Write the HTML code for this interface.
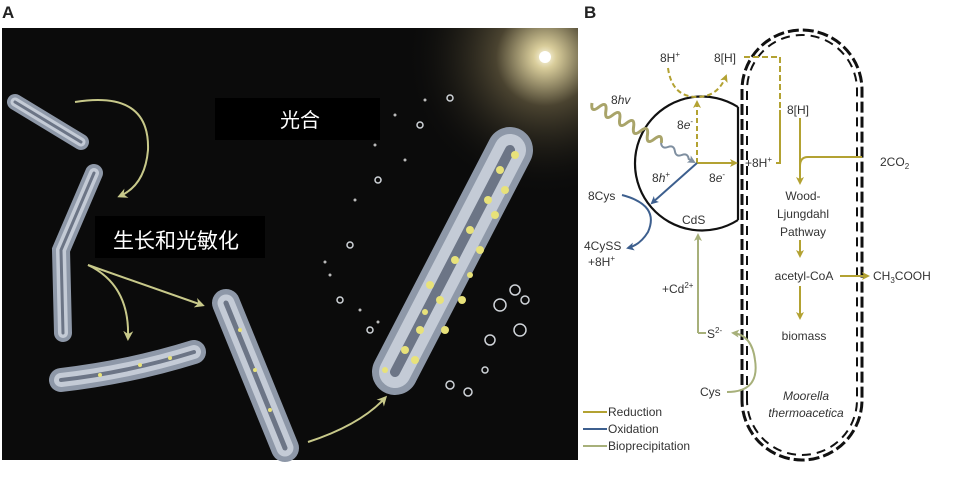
<!DOCTYPE html>
<html><head><meta charset="utf-8"><style>
body{margin:0;background:#fff;width:961px;height:480px;overflow:hidden}
svg text{font-family:"Liberation Sans",sans-serif}
</style></head><body>
<svg width="961" height="480" viewBox="0 0 961 480" xmlns="http://www.w3.org/2000/svg">
<defs>
<radialGradient id="sun" cx="545" cy="57" r="140" gradientUnits="userSpaceOnUse">
<stop offset="0" stop-color="#fffbe8"/><stop offset="0.08" stop-color="#d8cc9a"/><stop offset="0.35" stop-color="#4a4330"/><stop offset="1" stop-color="#0a0a0a" stop-opacity="0"/></radialGradient>
<marker id="ay" markerWidth="8" markerHeight="8" refX="6" refY="4" orient="auto" markerUnits="userSpaceOnUse"><path d="M0,0 L8,4 L0,8 L2,4z" fill="#b3a232"/></marker>
<marker id="ab" markerWidth="8" markerHeight="8" refX="6" refY="4" orient="auto" markerUnits="userSpaceOnUse"><path d="M0,0 L8,4 L0,8 L2,4z" fill="#3d5f8e"/></marker>
<marker id="ag" markerWidth="8" markerHeight="8" refX="6" refY="4" orient="auto" markerUnits="userSpaceOnUse"><path d="M0,0 L8,4 L0,8 L2,4z" fill="#a7b07a"/></marker>
<marker id="aw" markerWidth="8" markerHeight="8" refX="6" refY="4" orient="auto" markerUnits="userSpaceOnUse"><path d="M0,0 L8,4 L0,8 L2,4z" fill="#7f8fa0"/></marker>
<marker id="al" markerWidth="10" markerHeight="10" refX="7" refY="5" orient="auto" markerUnits="userSpaceOnUse"><path d="M0,0 L10,5 L0,10 L3,5z" fill="#c8c98a"/></marker>
</defs>
<!-- Panel A -->
<text x="2" y="18" font-size="17" font-weight="bold" fill="#222">A</text>
<rect x="2" y="28" width="576" height="432" fill="#0b0b0b"/>
<rect x="2" y="28" width="576" height="432" fill="url(#sun)"/>
<circle cx="545" cy="57" r="6" fill="#fff"/>
<g stroke-linecap="round" fill="none">
<g stroke="#8e98a8"><path d="M15,102 L81,142" stroke-width="16"/><path d="M94,173 L61,250 L63,333" stroke-width="18"/><path d="M61,380 Q130,372 194,352" stroke-width="24"/><path d="M226,303 L285,448" stroke-width="28"/><path d="M395,372 L510,150" stroke-width="46"/></g>
<g stroke="#c4cbd6"><path d="M15,102 L81,142" stroke-width="9"/><path d="M94,173 L61,250 L63,333" stroke-width="10"/><path d="M61,380 Q130,372 194,352" stroke-width="14"/><path d="M226,303 L285,448" stroke-width="17"/><path d="M395,372 L510,150" stroke-width="32"/></g>
<g stroke="#6c7586"><path d="M15,102 L81,142" stroke-width="3"/><path d="M94,173 L61,250 L63,333" stroke-width="3"/><path d="M61,380 Q130,372 194,352" stroke-width="4"/><path d="M226,303 L285,448" stroke-width="5"/><path d="M395,372 L510,150" stroke-width="10"/></g>
</g>
<g fill="#e8e27a">
<circle cx="405" cy="350" r="4"/><circle cx="420" cy="330" r="4"/><circle cx="440" cy="300" r="4"/><circle cx="455" cy="260" r="4"/><circle cx="470" cy="230" r="4"/><circle cx="488" cy="200" r="4"/><circle cx="500" cy="170" r="4"/><circle cx="515" cy="155" r="4"/><circle cx="430" cy="285" r="4"/><circle cx="462" cy="300" r="4"/><circle cx="480" cy="250" r="4"/><circle cx="495" cy="215" r="4"/><circle cx="415" cy="360" r="4"/><circle cx="445" cy="330" r="4"/><circle cx="505" cy="190" r="4"/><circle cx="385" cy="370" r="3"/><circle cx="425" cy="312" r="3"/><circle cx="470" cy="275" r="3"/>
<circle cx="240" cy="330" r="2"/><circle cx="255" cy="370" r="2"/><circle cx="270" cy="410" r="2"/><circle cx="100" cy="375" r="2"/><circle cx="140" cy="365" r="2"/><circle cx="170" cy="358" r="2"/>
</g>
<g fill="none" stroke="#cfd3d8" stroke-width="1.5">
<circle cx="450" cy="98" r="3"/><circle cx="420" cy="125" r="3"/><circle cx="378" cy="180" r="3"/><circle cx="350" cy="245" r="3"/><circle cx="340" cy="300" r="3"/><circle cx="370" cy="330" r="3"/><circle cx="500" cy="305" r="6"/><circle cx="515" cy="290" r="5"/><circle cx="520" cy="330" r="6"/><circle cx="490" cy="340" r="5"/><circle cx="450" cy="385" r="4"/><circle cx="468" cy="392" r="4"/><circle cx="485" cy="370" r="3"/><circle cx="525" cy="300" r="4"/>
</g>
<g fill="#bbb"><circle cx="395" cy="115" r="1.5"/><circle cx="405" cy="160" r="1.5"/><circle cx="355" cy="200" r="1.5"/><circle cx="325" cy="262" r="1.5"/><circle cx="330" cy="275" r="1.5"/><circle cx="360" cy="310" r="1.5"/><circle cx="378" cy="322" r="1.5"/><circle cx="425" cy="100" r="1.5"/><circle cx="375" cy="145" r="1.5"/></g>
<g fill="none" stroke="#c8c98a" stroke-width="2">
<path d="M75,102 Q150,90 148,150 Q145,185 120,196" marker-end="url(#al)"/>
<path d="M88,265 Q130,285 128,338" marker-end="url(#al)"/>
<path d="M88,265 L202,305" marker-end="url(#al)"/>
<path d="M308,442 Q360,425 385,398" marker-end="url(#al)"/>
</g>
<rect x="215" y="98" width="165" height="42" fill="#000"/>
<text x="300" y="127" font-size="20" fill="#fff" text-anchor="middle" font-family="'Liberation Sans','Noto Sans CJK SC',sans-serif">光合</text>
<rect x="95" y="216" width="170" height="42" fill="#000"/>
<text x="176" y="248" font-size="21" fill="#fff" text-anchor="middle" font-family="'Liberation Sans','Noto Sans CJK SC',sans-serif">生长和光敏化</text>
<!-- Panel B -->
<text x="584" y="18" font-size="17" font-weight="bold" fill="#222">B</text>
<g fill="none" stroke="#111" stroke-width="3" stroke-dasharray="11,4">
<path d="M742,400 L742,90 A60,60 0 0 1 862,90 L862,400 A60,60 0 0 1 742,400 Z"/>
</g>
<g fill="none" stroke="#111" stroke-width="2" stroke-dasharray="9,6">
<path d="M747,400 L747,90 A55,55 0 0 1 857,90 L857,400 A55,55 0 0 1 747,400 Z"/>
</g>
<path d="M738,107 A67,67 0 1 0 738,220" fill="none" stroke="#111" stroke-width="2.2"/>
<line x1="738" y1="107" x2="738" y2="220" stroke="#111" stroke-width="2.2"/>
<!-- reduction -->
<g fill="none" stroke="#b3a232" stroke-width="2">
<path d="M697,163 L697,102" stroke-dasharray="5,3" marker-end="url(#ay)"/>
<path d="M697,163 L736,163" marker-end="url(#ay)"/>
<path d="M668,68 Q672,97 697,97 Q718,97 726,76" stroke-dasharray="5,3" marker-end="url(#ay)"/>
<path d="M744,57 L780,57 L780,110" stroke-dasharray="6,3"/>
<path d="M776,163 L780,163 L780,110"/>
<path d="M800,118 L800,183" marker-end="url(#ay)"/>
<path d="M862,157 L808,157 Q800,157 800,166"/>
<path d="M800,240 L800,256" marker-end="url(#ay)"/>
<path d="M800,286 L800,318" marker-end="url(#ay)"/>
<path d="M840,276 L868,276" marker-end="url(#ay)"/>
<line x1="583" y1="412" x2="607" y2="412"/>
</g>
<g fill="none" stroke="#3d5f8e" stroke-width="2">
<path d="M697,163 L652,203" marker-end="url(#ab)"/>
<path d="M622,195 Q660,205 648,232 Q640,245 628,248" marker-end="url(#ab)"/>
<line x1="583" y1="429" x2="607" y2="429"/>
</g>
<g fill="none" stroke="#a7b07a" stroke-width="2">
<path d="M698,333 L698,235" marker-end="url(#ag)"/>
<path d="M698,333 L706,333"/>
<path d="M727,392 Q760,392 755,360 Q752,335 733,333" marker-end="url(#ag)"/>
<line x1="583" y1="446" x2="607" y2="446"/>
</g>
<path d="M592,103 q-1.54,10.66 6.93,4 q8.46,-6.66 6.93,4 q-1.54,10.66 6.93,4 q8.46,-6.66 6.93,4 q-1.54,10.66 6.93,4 q8.46,-6.66 6.93,4 q-1.54,10.66 6.93,4 q8.46,-6.66 6.93,4 q-1.54,10.66 6.93,4 q8.46,-6.66 6.93,4" fill="none" stroke="#a9a46a" stroke-width="3"/>
<path d="M661,143 q0.96,6.33 6.93,4 q5.96,-2.33 6.93,4 q0.96,6.33 6.93,4 q5.96,-2.33 6.93,4 L694,162" fill="none" stroke="#7f8fa0" stroke-width="2" marker-end="url(#aw)"/>
<g font-size="12" fill="#333">
<text x="660" y="62">8H<tspan font-size="8" dy="-5">+</tspan></text>
<text x="714" y="62">8[H]</text>
<text x="611" y="104">8<tspan font-style="italic">hv</tspan></text>
<text x="677" y="129">8<tspan font-style="italic">e</tspan><tspan font-size="8" dy="-5">-</tspan></text>
<text x="709" y="182">8<tspan font-style="italic">e</tspan><tspan font-size="8" dy="-5">-</tspan></text>
<text x="652" y="182">8<tspan font-style="italic">h</tspan><tspan font-size="8" dy="-5">+</tspan></text>
<text x="745" y="167">+8H<tspan font-size="8" dy="-5">+</tspan></text>
<text x="787" y="114">8[H]</text>
<text x="880" y="166">2CO<tspan font-size="8" dy="3">2</tspan></text>
<text x="588" y="200">8Cys</text>
<text x="682" y="224">CdS</text>
<text x="584" y="250">4CySS</text>
<text x="588" y="266">+8H<tspan font-size="8" dy="-5">+</tspan></text>
<text x="662" y="293">+Cd<tspan font-size="8" dy="-5">2+</tspan></text>
<text x="707" y="338">S<tspan font-size="8" dy="-5">2-</tspan></text>
<text x="700" y="396">Cys</text>
<text x="803" y="200" text-anchor="middle">Wood-</text>
<text x="803" y="218" text-anchor="middle">Ljungdahl</text>
<text x="803" y="236" text-anchor="middle">Pathway</text>
<text x="804" y="280" text-anchor="middle">acetyl-CoA</text>
<text x="873" y="280">CH<tspan font-size="8" dy="3">3</tspan><tspan dy="-3">COOH</tspan></text>
<text x="804" y="340" text-anchor="middle">biomass</text>
<text x="806" y="400" text-anchor="middle" font-style="italic">Moorella</text>
<text x="806" y="417" text-anchor="middle" font-style="italic">thermoacetica</text>
<text x="608" y="416">Reduction</text>
<text x="608" y="433">Oxidation</text>
<text x="608" y="450">Bioprecipitation</text>
</g>
</svg>
</body></html>
